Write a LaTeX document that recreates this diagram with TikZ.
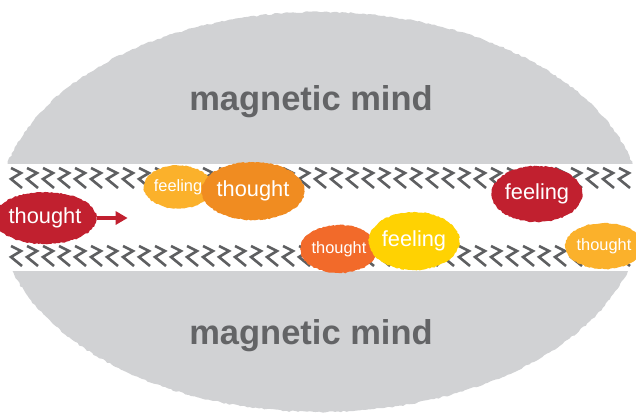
\documentclass[tikz,border=0pt]{standalone}
\usepackage{fontspec}
\setmainfont{Liberation Sans}
\setsansfont{Liberation Sans}
\usetikzlibrary{shapes.geometric, arrows.meta, positioning, decorations.pathmorphing}
\usepackage{xcolor}
\definecolor{mindGray}{HTML}{D1D2D4}
\definecolor{labelGray}{HTML}{636466}
\definecolor{zigGray}{HTML}{5E5F61}
\definecolor{bRed}{HTML}{C1202F}
\definecolor{bOrange}{HTML}{F08C21}
\definecolor{bAmber}{HTML}{FBB12B}
\definecolor{bRust}{HTML}{F26A2A}
\definecolor{bYellow}{HTML}{FFD202}
\tikzset{
    font=\sffamily,
    >=Stealth,
    % Shapes
    mind/.style={fill=mindGray, decorate,
                 decoration={random steps, segment length=3pt, amplitude=0.8pt}},
    mindlabel/.style={text=labelGray, font=\sffamily\bfseries\fontsize{34.5}{36}\selectfont},
    blob/.style={ellipse, inner sep=0pt, text=white, decorate,
                 decoration={random steps, segment length=2pt, amplitude=0.6pt}},
    bigtext/.style={font=\sffamily\fontsize{21.8}{24}\selectfont},
    smalltext/.style={font=\sffamily\fontsize{16.4}{18}\selectfont},
    % Lines
    zigzag/.style={zigGray, line width=2.6pt, line join=miter},
    thrust/.style={-{Triangle[length=12pt, width=13pt]}, line width=3.6pt, bRed}
}
\begin{document}
\begin{tikzpicture}[x=1pt, y=-1pt]
\useasboundingbox (0,0) rectangle (636,418);

% Mind halves
\begin{scope}
    \clip (0,0) rectangle (636,163);
    \fill[mind] (320,212) ellipse [x radius=322pt, y radius=200pt];
\end{scope}
\begin{scope}
    \clip (0,271) rectangle (636,418);
    \fill[mind] (320,212) ellipse [x radius=322pt, y radius=200pt];
\end{scope}
\node[mindlabel] (upperMind) at (311,102) {magnetic mind};
\node[mindlabel] (lowerMind) at (311,336) {magnetic mind};

% Zigzag rows
\foreach \x in {10,26,...,618} {
    \foreach \y in {168,246} {
        \draw[zigzag] (\x+1,\y) -- (\x+11,\y+5) -- (\x+1,\y+11) -- (\x+12,\y+20);
    }
}

% Blobs
\node[blob, bigtext, fill=bRed, minimum width=86pt, minimum height=52pt] (thoughtA) at (45,218) {thought};
\node[blob, smalltext, fill=bAmber, minimum width=66pt, minimum height=43pt] (feelingA) at (178,187) {feeling};
\node[blob, bigtext, fill=bOrange, minimum width=90pt, minimum height=58pt] (thoughtB) at (253,191) {thought};
\node[blob, smalltext, fill=bRust, minimum width=68pt, minimum height=48pt] (thoughtC) at (339,249) {thought};
\node[blob, bigtext, fill=bYellow, minimum width=88pt, minimum height=58pt] (feelingB) at (414,241) {feeling};
\node[blob, bigtext, fill=bRed, minimum width=88pt, minimum height=56pt] (feelingC) at (537,194) {feeling};
\node[blob, smalltext, fill=bAmber, minimum width=64pt, minimum height=46pt] (thoughtD) at (604,246) {thought};

% Arrow
\coordinate[right=31pt of thoughtA] (push);
\draw[thrust] (thoughtA) -- (push);

\end{tikzpicture}
\end{document}
